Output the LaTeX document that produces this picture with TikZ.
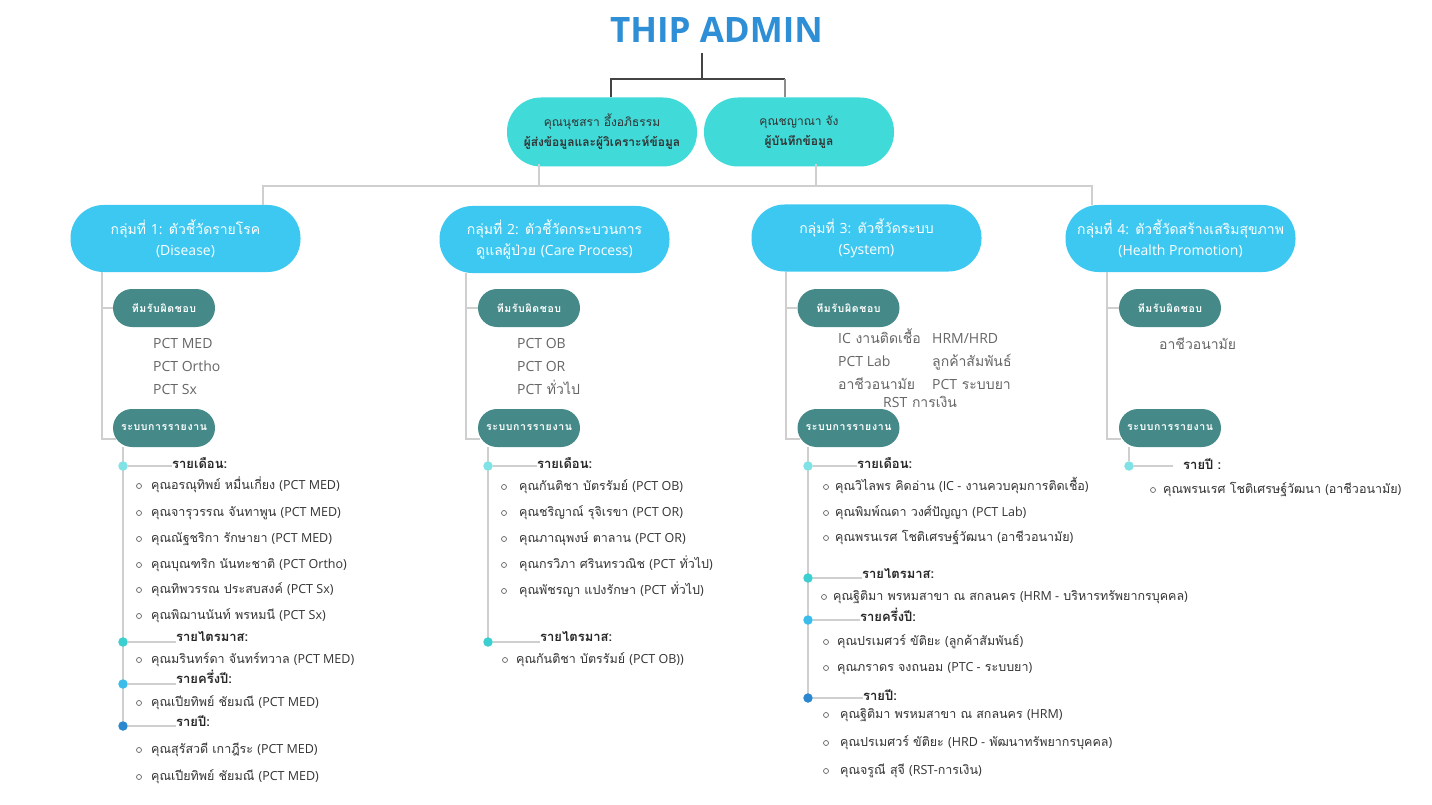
\documentclass[tikz,border=0pt]{standalone}
\usepackage{fontspec}
\setmainfont{Loma}[Script=Thai]
\newfontfamily\titlefont{Open Sans}
\newfontfamily\latinfont{Open Sans}
\newcommand\lat[1]{{\latinfont #1}}
\definecolor{titleblue}{HTML}{2E8FD6}
\definecolor{turq}{HTML}{40DAD8}
\definecolor{grpblue}{HTML}{3CC8F0}
\definecolor{teamteal}{HTML}{458A89}
\definecolor{linegray}{HTML}{CFCFCF}
\definecolor{darkline}{HTML}{444444}
\definecolor{txtgray}{HTML}{666666}
\definecolor{itemtxt}{HTML}{333333}
\definecolor{dotA}{HTML}{80E2E4}
\definecolor{dotB}{HTML}{3CCFCF}
\definecolor{dotC}{HTML}{3BBDEB}
\definecolor{dotD}{HTML}{2B88CF}
\tikzset{
  lvltwo/.style={fill=turq, rounded corners=34, minimum width=190, minimum height=69, inner sep=0, align=center, text=black!80, font=\fontsize{12}{20}\selectfont},
  grp/.style={fill=grpblue, rounded corners=33, minimum width=230, minimum height=67, inner sep=0, align=center, text=white, font=\fontsize{14}{21}\selectfont},
  team/.style={fill=teamteal, rounded corners=19, minimum width=102, minimum height=38, inner sep=0, text=white, font=\bfseries\fontsize{10.5}{12}\selectfont\addfontfeature{LetterSpace=6}},
  dk/.style={draw=darkline, line width=1.2},
  lg/.style={draw=linegray, line width=1.3},
  pct/.style={anchor=west, inner sep=0, text=txtgray, font=\fontsize{14}{16}\selectfont, text height=10, text depth=3},
  lab/.style={anchor=west, inner sep=0, text=black!85, font=\bfseries\fontsize{13}{15}\selectfont, text height=9, text depth=3},
  itm/.style={anchor=west, inner sep=0, text=itemtxt, font=\fontsize{12.5}{15}\selectfont, text height=9, text depth=3},
  bul/.style={circle, draw=black!60, line width=0.7, minimum size=5, inner sep=0},
  tdot/.style={circle, minimum size=9.5, inner sep=0},
}
\newcommand\itm[5]{%
  \node[bul] (#1b) at (#2,#4) {};
  \node[itm] (#1) at (#3,#4) {#5};
}
\begin{document}
\begin{tikzpicture}[x=1pt,y=-1pt]
\useasboundingbox[fill=white] (0,0) rectangle (1432,805);

% title
\node[anchor=base, inner sep=0, text=titleblue, font=\titlefont\bfseries\fontsize{35}{40}\selectfont] (title) at (716.5,43) {THIP ADMIN};

% level two boxes
\node[lvltwo] (b1) at (602,132) {คุณนุชสรา อึ้งอภิธรรม\\\textbf{ผู้ส่งข้อมูลและผู้วิเคราะห์ข้อมูล}};
\node[lvltwo] (b2) at (799,132) {คุณชญาณา จัง\\\textbf{ผู้บันทึกข้อมูล}};

\coordinate (j0) at (702,53);
\coordinate (j1) at (702,79);
\coordinate (ja) at (611,79);
\coordinate (jb) at (785,79);
\draw[dk] (j0) -- (j1);
\draw[dk] (ja |- b1.north) -- (ja) -- (jb);
\draw[draw=black!45, line width=1.2] (jb) -- (jb |- b2.north);

% groups
\node[grp] (g1) at (185.5,238.5) {กลุ่มที่ \lat{1:} ตัวชี้วัดรายโรค\\\lat{(Disease)}};
\node[grp] (g2) at (554.5,239.5) {กลุ่มที่ \lat{2:} ตัวชี้วัดกระบวนการ\\ดูแลผู้ป่วย \lat{(Care Process)}};
\node[grp] (g3) at (866.5,238) {กลุ่มที่ \lat{3:} ตัวชี้วัดระบบ\\\lat{(System)}};
\node[grp] (g4) at (1180.5,238.5) {กลุ่มที่ \lat{4:} ตัวชี้วัดสร้างเสริมสุขภาพ\\\lat{(Health Promotion)}};

\coordinate (kL) at (263,186);
\coordinate (kR) at (1092,186);
\coordinate (k1) at (539,186);
\coordinate (k2) at (816,186);
\draw[lg] (kL |- g1.north) -- (kL) -- (kR) -- (kR |- g4.north);
\draw[lg] ([yshift=3]k1 |- b1.south) -- (k1);
\draw[lg] ([yshift=3]k2 |- b2.south) -- (k2);

% team and report boxes
\node[team] (t1) at (164,308) {ทีมรับผิดชอบ};
\node[team] (r1) at (164,428) {ระบบการรายงาน};
\node[team] (t2) at (529,308) {ทีมรับผิดชอบ};
\node[team] (r2) at (529,428) {ระบบการรายงาน};
\node[team] (t3) at (848.5,308) {ทีมรับผิดชอบ};
\node[team] (r3) at (848.5,428) {ระบบการรายงาน};
\node[team] (t4) at (1170,308) {ทีมรับผิดชอบ};
\node[team] (r4) at (1170,428) {ระบบการรายงาน};

\foreach \g/\x in {1/102, 2/466, 3/786, 4/1107}{
  \coordinate (v\g) at (\x,439);
  \draw[lg] (v\g |- g\g.south) -- (v\g) -- ++(14,0);
  \draw[lg] (v\g |- t\g) -- (t\g.west);
}

% responsible teams
\node[pct] (p11) at (153,345) {\lat{PCT MED}};
\node[pct] (p12) at (153,368) {\lat{PCT Ortho}};
\node[pct] (p13) at (153,391) {\lat{PCT Sx}};
\node[pct] (p21) at (517,345) {\lat{PCT OB}};
\node[pct] (p22) at (517,368) {\lat{PCT OR}};
\node[pct] (p23) at (517,391) {\lat{PCT} ทั่วไป};
\node[pct] (p31) at (838,340) {\lat{IC} งานติดเชื้อ};
\node[pct] (p32) at (932,340) {\lat{HRM/HRD}};
\node[pct] (p33) at (838,363) {\lat{PCT Lab}};
\node[pct] (p34) at (932,363) {ลูกค้าสัมพันธ์};
\node[pct] (p35) at (838,386) {อาชีวอนามัย};
\node[pct] (p36) at (932,386) {\lat{PCT} ระบบยา};
\node[pct] (p37) at (883,404) {\lat{RST} การเงิน};
\node[pct] (p41) at (1159,346) {อาชีวอนามัย};

% ---------- timeline group 1
\coordinate (e1) at (123,726);
\draw[lg] (e1 |- r1.south) -- (e1);
\node[tdot, fill=dotA] (d11) at (123,466) {};
\node[tdot, fill=dotB] (d12) at (123,642) {};
\node[tdot, fill=dotC] (d13) at (123,684) {};
\node[tdot, fill=dotD] (d14) at (123,726) {};
\node[lab] (l11) at (172,465) {รายเดือน:};
\node[lab] (l12) at (176,638) {รายไตรมาส:};
\node[lab] (l13) at (176,680) {รายครึ่งปี:};
\node[lab] (l14) at (176,723) {รายปี:};
\foreach \i in {1,...,4}{\draw[lg] (d1\i) -- (d1\i -| l1\i.west);}
\itm{a1}{139}{151}{486}{คุณอรณุทิพย์ หมื่นเกี่ยง \lat{(PCT MED)}}
\itm{a2}{139}{151}{513}{คุณจารุวรรณ จันทาพูน \lat{(PCT MED)}}
\itm{a3}{139}{151}{539}{คุณณัฐชริกา รักษายา \lat{(PCT MED)}}
\itm{a4}{139}{151}{565}{คุณบุณฑริก นันทะชาติ \lat{(PCT Ortho)}}
\itm{a5}{139}{151}{590}{คุณทิพวรรณ ประสบสงค์ \lat{(PCT Sx)}}
\itm{a6}{139}{151}{616}{คุณพิฌานนันท์ พรหมนี \lat{(PCT Sx)}}
\itm{a7}{139}{151}{660}{คุณมรินทร์ดา จันทร์ทวาล \lat{(PCT MED)}}
\itm{a8}{139}{151}{703}{คุณเปียทิพย์ ชัยมณี \lat{(PCT MED)}}
\itm{a9}{139}{151}{750}{คุณสุรัสวดี เกาฎีระ \lat{(PCT MED)}}
\itm{a10}{139}{151}{777}{คุณเปียทิพย์ ชัยมณี \lat{(PCT MED)}}

% ---------- timeline group 2
\coordinate (e2) at (488,642);
\draw[lg] (e2 |- r2.south) -- (e2);
\node[tdot, fill=dotA] (d21) at (488,466) {};
\node[tdot, fill=dotB] (d22) at (488,642) {};
\node[lab] (l21) at (537,465) {รายเดือน:};
\node[lab] (l22) at (540,638) {รายไตรมาส:};
\foreach \i in {1,2}{\draw[lg] (d2\i) -- (d2\i -| l2\i.west);}
\itm{c1}{504}{519}{487}{คุณกันติชา บัตรรัมย์ \lat{(PCT OB)}}
\itm{c2}{504}{519}{513}{คุณชริญาณ์ รุจิเรขา \lat{(PCT OR)}}
\itm{c3}{504}{519}{539}{คุณภาณุพงษ์ ตาลาน \lat{(PCT OR)}}
\itm{c4}{504}{519}{565}{คุณกรวิภา ศรินทรวณิช \lat{(PCT} ทั่วไป\lat{)}}
\itm{c5}{504}{519}{591}{คุณพัชรญา แปงรักษา \lat{(PCT} ทั่วไป\lat{)}}
\itm{c6}{505}{516}{660}{คุณกันติชา บัตรรัมย์ \lat{(PCT OB))}}

% ---------- timeline group 3
\coordinate (e3) at (808,698);
\draw[lg] (e3 |- r3.south) -- (e3);
\node[tdot, fill=dotA] (d31) at (808,466) {};
\node[tdot, fill=dotB] (d32) at (808,578) {};
\node[tdot, fill=dotC] (d33) at (808,620) {};
\node[tdot, fill=dotD] (d34) at (808,698) {};
\node[lab] (l31) at (857,465) {รายเดือน:};
\node[lab] (l32) at (862,575) {รายไตรมาส:};
\node[lab] (l33) at (860,618) {รายครึ่งปี:};
\node[lab] (l34) at (863,697) {รายปี:};
\foreach \i in {1,...,4}{\draw[lg] (d3\i) -- (d3\i -| l3\i.west);}
\itm{s1}{826}{835}{487}{คุณวิไลพร คิดอ่าน \lat{(IC -} งานควบคุมการติดเชื้อ\lat{)}}
\itm{s2}{826}{835}{513}{คุณพิมพ์ณดา วงศ์ปัญญา \lat{(PCT Lab)}}
\itm{s3}{826}{835}{538}{คุณพรนเรศ โชติเศรษฐ์วัฒนา \lat{(}อาชีวอนามัย\lat{)}}
\itm{s4}{824}{833}{597}{คุณฐิติมา พรหมสาขา ณ สกลนคร \lat{(HRM -} บริหารทรัพยากรบุคคล\lat{)}}
\itm{s5}{826}{837}{642}{คุณปรเมศวร์ ขัติยะ \lat{(}ลูกค้าสัมพันธ์\lat{)}}
\itm{s6}{826}{837}{668}{คุณภราดร จงถนอม \lat{(PTC -} ระบบยา\lat{)}}
\itm{s7}{826}{840}{715}{คุณฐิติมา พรหมสาขา ณ สกลนคร \lat{(HRM)}}
\itm{s8}{826}{840}{743}{คุณปรเมศวร์ ขัติยะ \lat{(HRD -} พัฒนาทรัพยากรบุคคล\lat{)}}
\itm{s9}{826}{840}{771}{คุณจรูณี สุจี \lat{(RST-}การเงิน\lat{)}}

% ---------- timeline group 4
\node[tdot, fill=dotA] (d41) at (1129,466) {};
\draw[lg] (d41 |- r4.south) -- (d41);
\node[lab] (l41) at (1183,466) {รายปี :};
\draw[lg] (d41) -- ([xshift=-10]d41 -| l41.west);
\itm{h1}{1153}{1163}{490}{คุณพรนเรศ โชติเศรษฐ์วัฒนา \lat{(}อาชีวอนามัย\lat{)}}
\end{tikzpicture}
\end{document}
